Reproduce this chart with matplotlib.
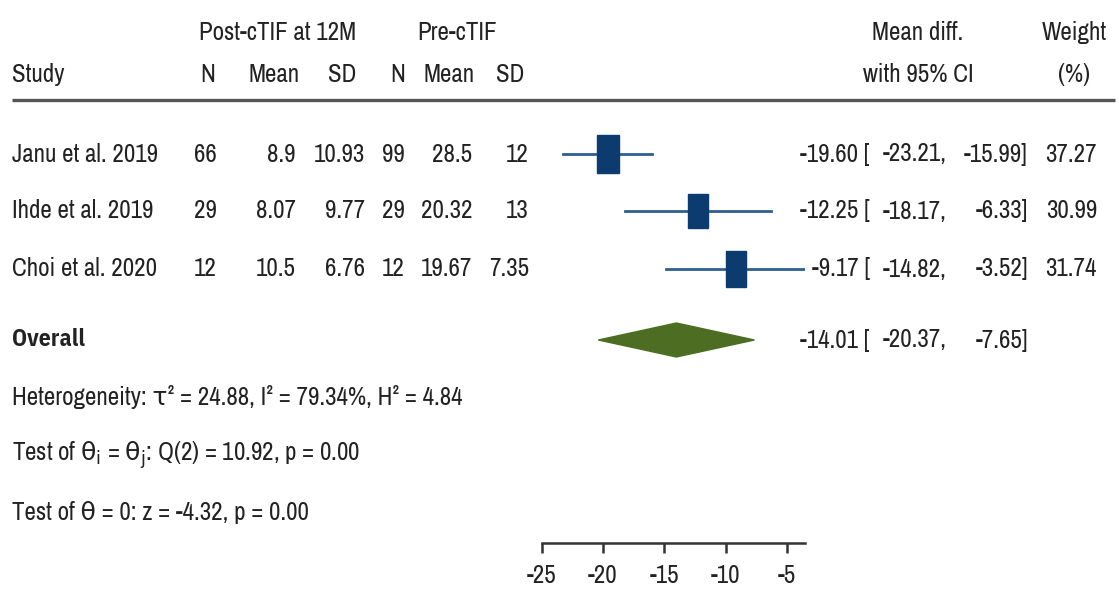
import numpy as np
import matplotlib
matplotlib.use("Agg")
import matplotlib.pyplot as plt
from matplotlib.patches import Rectangle, Polygon

plt.rcParams['font.family'] = ['Archivo Narrow', 'IBM Plex Sans Condensed', 'DejaVu Sans']
plt.rcParams['axes.unicode_minus'] = False

# data
studies = ["Janu et al. 2019", "Ihde et al. 2019", "Choi et al. 2020"]
post_n = ["66", "29", "12"]
post_mean = ["8.9", "8.07", "10.5"]
post_sd = ["10.93", "9.77", "6.76"]
pre_n = ["99", "29", "12"]
pre_mean = ["28.5", "20.32", "19.67"]
pre_sd = ["12", "13", "7.35"]
md = [-19.60, -12.25, -9.17]
ci_lo = [-23.21, -18.17, -14.82]
ci_hi = [-15.99, -6.33, -3.52]
weight = [37.27, 30.99, 31.74]
overall = -14.01
overall_lo = -20.37
overall_hi = -7.65
ticks = [-25, -20, -15, -10, -5]

W, H = 1119, 593
fs = 18
txt = "#222222"

fig = plt.figure(figsize=(W / 100, H / 100), dpi=100)

# text layer in pixel units
tx = fig.add_axes([0, 0, 1, 1])
tx.set_xlim(0, W)
tx.set_ylim(H, 0)
tx.axis("off")

row_y = [154, 211, 269]
y_overall = 340

def put(x, y, s, ha="right", **kw):
    tx.text(x, y, s, ha=ha, va="center", fontsize=kw.pop("size", fs), color=txt, **kw)

# headers
put(278, 32, "Post-cTIF at 12M", ha="center")
put(457, 32, "Pre-cTIF", ha="center")
put(918, 32, "Mean diff.", ha="center")
put(1074, 32, "Weight", ha="center")
put(12, 75, "Study", ha="left")
for x, h in zip([215, 300, 356, 405, 475, 524], ["N", "Mean", "SD", "N", "Mean", "SD"]):
    put(x, 75, h)
put(918, 75, "with 95% CI", ha="center")
put(1074, 75, "(%)", ha="center")
tx.plot([12, 1115], [100, 100], color="#555555", lw=2.4, solid_capstyle="butt")

# study rows
for i, y in enumerate(row_y):
    put(12, y, studies[i], ha="left")
    vals = [post_n[i], post_mean[i], post_sd[i], pre_n[i], pre_mean[i], pre_sd[i]]
    for x, v in zip([217, 296, 365, 405, 472, 529], vals):
        put(x, y, v)
    put(870, y, "%.2f [" % md[i])
    put(947, y, "%.2f," % ci_lo[i])
    put(1028, y, "%.2f]" % ci_hi[i])
    put(1097, y, "%.2f" % weight[i])

put(12, y_overall, "Overall", ha="left", size=fs - 1, fontweight="bold",
    family=['IBM Plex Sans Condensed', 'DejaVu Sans'])
put(870, y_overall, "%.2f [" % overall)
put(947, y_overall, "%.2f," % overall_lo)
put(1028, y_overall, "%.2f]" % overall_hi)

put(12, 397, "Heterogeneity: τ² = 24.88, I² = 79.34%, H² = 4.84", ha="left")
put(12, 455, r"Test of $\mathrm{\theta_i}$ = $\mathrm{\theta_j}$: Q(2) = 10.92, p = 0.00",
    ha="left", math_fontfamily="dejavusans")
put(12, 513, "Test of θ = 0: z = -4.32, p = 0.00", ha="left")

# forest panel
x0, x1 = 541.5, 805
ax = fig.add_axes([x0 / W, 0, (x1 - x0) / W, 1])
ax.set_xlim(-25, -3.53)
ax.set_ylim(H, 0)
ax.patch.set_visible(False)
for s in ["top", "left", "right"]:
    ax.spines[s].set_visible(False)
ax.spines["bottom"].set_position(("data", 543))
ax.spines["bottom"].set_linewidth(1.8)
ax.spines["bottom"].set_color("#333333")
ax.set_yticks([])
ax.set_xticks(ticks)
ax.tick_params(axis="x", direction="out", length=7, width=1.8, color="#333333",
               labelsize=fs, labelcolor=txt, pad=8)

unit = (x1 - x0) / (-3.53 + 25)
for i, y in enumerate(row_y):
    ax.plot([ci_lo[i], ci_hi[i]], [y, y], color="#2f5f92", lw=2)
    s = np.sqrt(weight[i] / max(weight))
    bw = 22 / unit * s
    bh = 38 * s
    ax.add_patch(Rectangle((md[i] - bw / 2, y - bh / 2), bw, bh,
                           facecolor="#0c3b70", edgecolor="#0c3b70", zorder=3))

ax.add_patch(Polygon([[overall_lo, y_overall], [overall, y_overall - 17],
                      [overall_hi, y_overall], [overall, y_overall + 17]],
                     closed=True, facecolor="#4d6e22", edgecolor="#4d6e22"))

fig.savefig("out.png", dpi=100)
